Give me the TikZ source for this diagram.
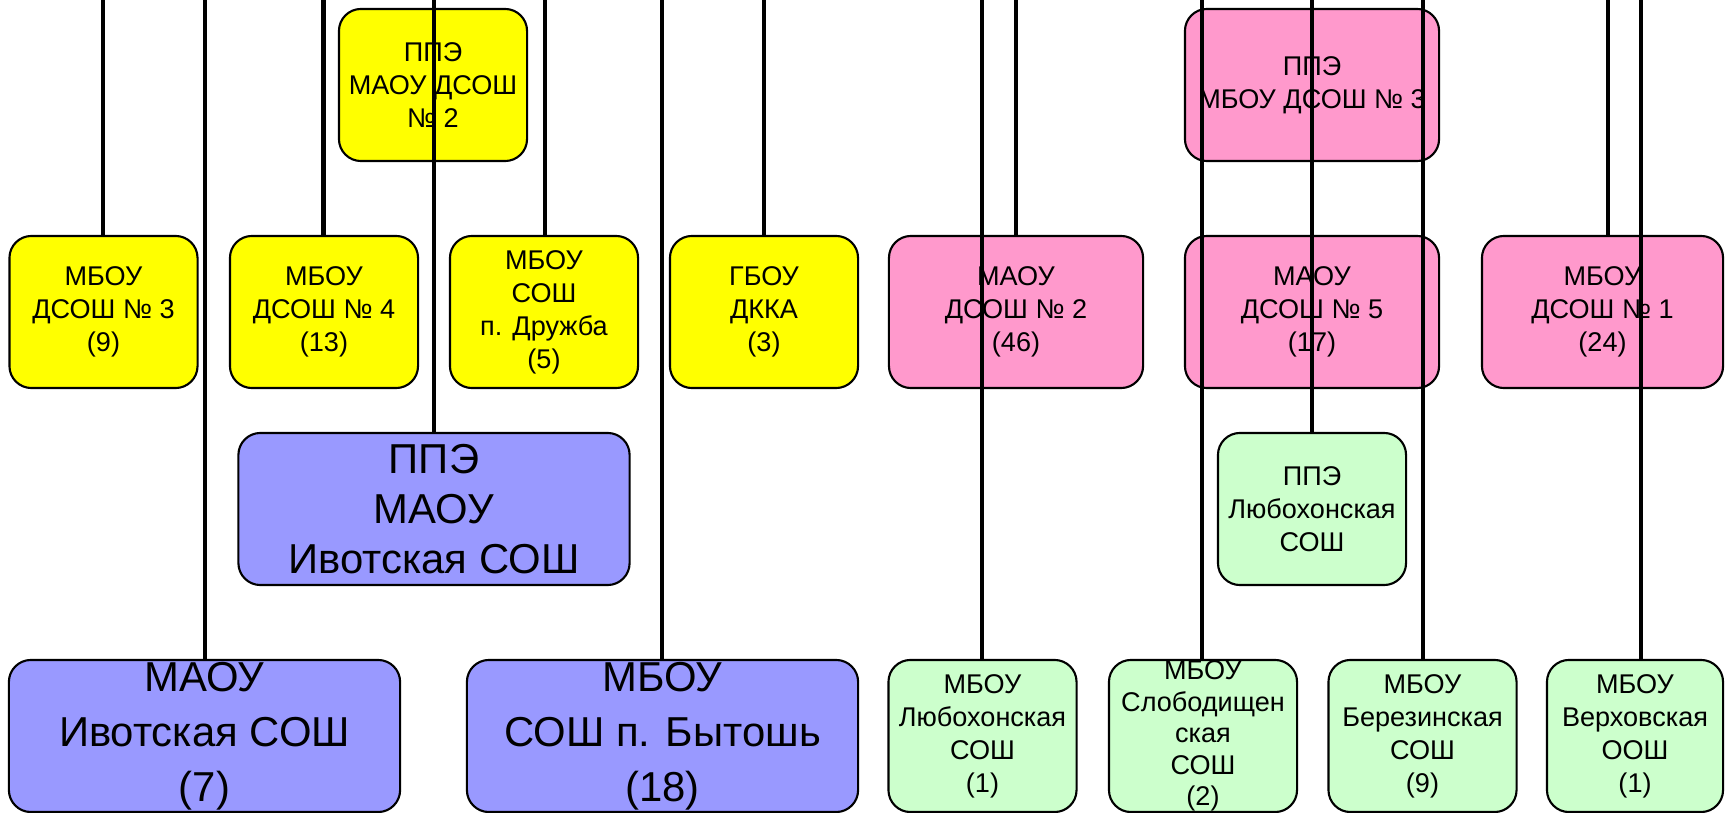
\documentclass[tikz,border=0pt]{standalone}
\usepackage{fontspec}
\setmainfont{Liberation Sans}
\definecolor{ppeyellow}{HTML}{FFFF00}
\definecolor{ppepink}{HTML}{FF99CC}
\definecolor{ppeblue}{HTML}{9999FF}
\definecolor{ppegreen}{HTML}{CCFFCC}

\begin{document}
\begin{tikzpicture}[x=0.01cm,y=-0.01cm,
                sbox/.style={draw,line width=0.6pt,rounded corners=0.22cm,align=center,inner sep=0pt,
                  minimum width=1.88cm,minimum height=1.52cm,font=\fontsize{7.7}{9.4}\selectfont},
                wbox/.style={sbox,minimum width=2.54cm},
                lbox/.style={sbox,minimum width=3.91cm,font=\fontsize{11.9}{15.6}\selectfont},
                link/.style={line width=1.4pt}]
                \useasboundingbox (0,0) rectangle (1725,813);
                % top row
                \node[sbox,fill=ppeyellow] (ppeA) at (433,85) {ППЭ\\МАОУ ДСОШ\\№ 2};
                \node[wbox,fill=ppepink] (ppeB) at (1312,85) {ППЭ\\МБОУ ДСОШ № 3};
                % schools
                \node[sbox,fill=ppeyellow] (dsosh3) at (103.5,312) {МБОУ\\ДСОШ № 3\\(9)};
                \node[sbox,fill=ppeyellow] (dsosh4) at (324,312) {МБОУ\\ДСОШ № 4\\(13)};
                \node[sbox,fill=ppeyellow] (druzhba) at (544,312) {МБОУ\\СОШ\\п. Дружба\\(5)};
                \node[sbox,fill=ppeyellow] (dkka) at (764,312) {ГБОУ\\ДККА\\(3)};
                \node[wbox,fill=ppepink] (dsosh2) at (1016,312) {МАОУ\\ДСОШ № 2\\(46)};
                \node[wbox,fill=ppepink] (dsosh5) at (1312,312) {МАОУ\\ДСОШ № 5\\(17)};
                \node[wbox,fill=ppepink,minimum width=2.41cm] (dsosh1) at (1602.5,312) {МБОУ\\ДСОШ № 1\\(24)};
                % third row
                \node[lbox,fill=ppeblue,font=\fontsize{11.9}{14.2}\selectfont] (ppeIvot) at (434,509) {ППЭ\\МАОУ\\Ивотская СОШ};
                \node[sbox,fill=ppegreen] (ppeLyub) at (1312,509) {ППЭ\\Любохонская\\СОШ};
                % bottom row
                \node[lbox,fill=ppeblue] (ivot) at (204.5,736) {МАОУ\\Ивотская СОШ\\(7)};
                \node[lbox,fill=ppeblue] (bytosh) at (662.5,736) {МБОУ\\СОШ п. Бытошь\\(18)};
                \node[sbox,fill=ppegreen] (lyub) at (982.5,736) {МБОУ\\Любохонская\\СОШ\\(1)};
                \node[sbox,fill=ppegreen,font=\fontsize{7.7}{9}\selectfont] (slob) at (1203,736) {МБОУ\\Слободищен\\ская\\СОШ\\(2)};
                \node[sbox,fill=ppegreen] (berez) at (1422.5,736) {МБОУ\\Березинская\\СОШ\\(9)};
                \node[sbox,fill=ppegreen,minimum width=1.76cm] (verkh) at (1635,736) {МБОУ\\Верховская\\ООШ\\(1)};
                % lines coming from above
                \foreach \x/\n in {103/dsosh3,205/ivot,323.5/dsosh4,434/ppeIvot,545/druzhba,
                  662/bytosh,764/dkka,982/lyub,1016/dsosh2,1202/slob,1312/ppeLyub,
                  1423/berez,1608/dsosh1,1641/verkh}
                  {\coordinate (t\n) at (\x,0);
                   \draw[link] (t\n) -- (t\n |- \n.north);}
            \end{tikzpicture}
\end{document}
